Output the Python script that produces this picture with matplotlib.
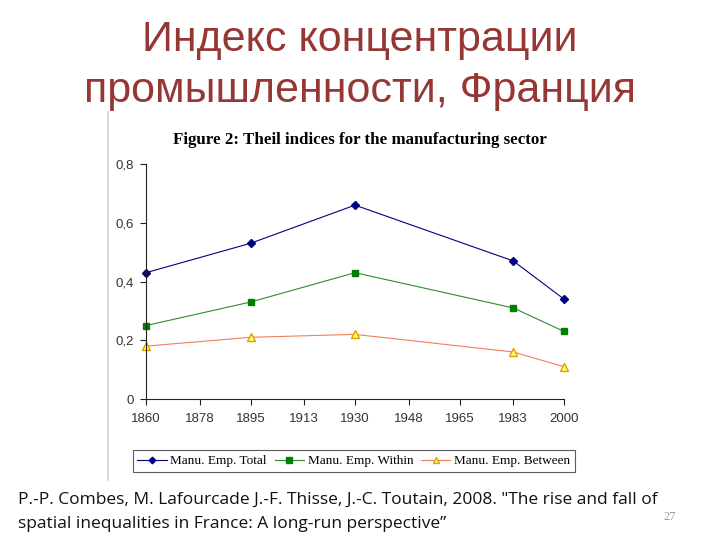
import matplotlib
matplotlib.use("Agg")
import matplotlib.pyplot as plt
from matplotlib.lines import Line2D
from matplotlib.ticker import FuncFormatter

# data
years = [1860, 1895, 1930, 1983, 2000]
total = [0.43, 0.53, 0.66, 0.47, 0.34]
within = [0.25, 0.33, 0.43, 0.31, 0.23]
between = [0.18, 0.21, 0.22, 0.16, 0.11]
xticks = [1860, 1878, 1895, 1913, 1930, 1948, 1965, 1983, 2000]
yticks = [0, 0.2, 0.4, 0.6, 0.8]
labels = ["Manu. Emp. Total", "Manu. Emp. Within", "Manu. Emp. Between"]

plt.rcParams["font.family"] = ["Liberation Sans", "DejaVu Sans"]
fig = plt.figure(figsize=(7.2, 5.4), dpi=100)

# slide title
fig.text(0.5, 0.905, "Индекс концентрации", ha="center", va="baseline",
         fontsize=31, color="#953735")
fig.text(0.5, 0.812, "промышленности, Франция", ha="center", va="baseline",
         fontsize=31, color="#953735")

# border of pasted figure image
fig.add_artist(Line2D([108 / 720, 108 / 720], [1 - 112 / 540, 1 - 480 / 540],
                      color="#d4d4d4", lw=1.2, transform=fig.transFigure))

fig.text(360 / 720, 1 - 140 / 540, "Figure 2: Theil indices for the manufacturing sector",
         ha="center", va="center", fontsize=12.2, fontweight="bold",
         family=["Liberation Serif", "DejaVu Serif"])

ax = fig.add_axes([146 / 720, 1 - 399 / 540, 418 / 720, 235 / 540])
ax.plot(years, total, "-D", color="#000080", ms=4.2, lw=0.8, label=labels[0])
ax.plot(years, within, "-s", color="#2e8b2e", mfc="#008000", mec="#008000", ms=5, lw=0.8,
        label=labels[1])
ax.plot(years, between, "-^", color="#f0805a", mfc="#ffff66", mec="#e0a000", ms=6, lw=0.8,
        label=labels[2])

ax.set_xlim(1860, 2000)
ax.set_ylim(0, 0.8)
ax.set_xticks(xticks)
ax.set_yticks(yticks)
ax.yaxis.set_major_formatter(FuncFormatter(lambda v, p: "0" if v == 0 else f"{v:.1f}".replace(".", ",")))
for s in ["top", "right"]:
    ax.spines[s].set_visible(False)
for s in ["left", "bottom"]:
    ax.spines[s].set_linewidth(0.8)
    ax.spines[s].set_color("#222222")
ax.tick_params(labelsize=9.5, labelcolor="#333333", length=4, width=0.8, color="#222222")
ax.tick_params(axis="x", pad=6)
ax.tick_params(axis="y", pad=5)
for l in ax.lines:
    l.set_clip_on(False)

leg = fig.legend(loc="center", bbox_to_anchor=(354 / 720, 1 - 461 / 540), ncol=3,
                 prop={"family": ["Liberation Serif", "DejaVu Serif"], "size": 9.5},
                 frameon=True, fancybox=False, edgecolor="#333333", handlelength=2.2,
                 handletextpad=0.3, columnspacing=0.6, borderpad=0.35, markerscale=0.8)
leg.get_frame().set_linewidth(0.8)

fig.text(18 / 720, 1 - 500 / 540,
         "P.-P. Combes, M. Lafourcade J.-F. Thisse, J.-C. Toutain, 2008. \"The rise and fall of",
         ha="left", va="center", fontsize=12.5,
         family=["Open Sans", "DejaVu Sans"], color="#111111")
fig.text(18 / 720, 1 - 524 / 540,
         "spatial inequalities in France: A long-run perspective\u201d",
         ha="left", va="center", fontsize=12.5,
         family=["Open Sans", "DejaVu Sans"], color="#111111")
fig.text(670 / 720, 1 - 517 / 540, "27", ha="center", va="center", fontsize=9,
         color="#999999", family=["Liberation Serif", "DejaVu Serif"])

fig.savefig("out.png", dpi=100, facecolor="white")
